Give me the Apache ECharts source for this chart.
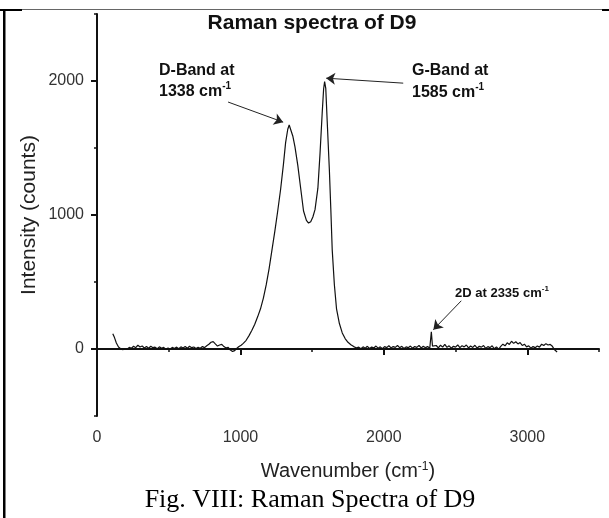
<!DOCTYPE html>
<html lang="en">
<head>
  <meta charset="UTF-8">
  <title>Raman spectra of D9</title>
  <style>
    body, html {
      background: #fff;
      margin: 0;
      padding: 0;
    }
    #main {
      width: 609px;
      height: 518px;
    }
  </style>
</head>
<body>
  <div id="main"></div>
</body>
<script src="https://cdn.jsdelivr.net/npm/echarts@6/dist/echarts.min.js"></script>
<script>
  // spectrum
  var wavenumber = [
    110, 122, 135, 150, 165, 180, 195, 210, 225, 240, 255, 270, 285, 300, 315, 330, 345, 360, 375, 390,
    405, 420, 435, 450, 465, 480, 495, 510, 525, 540, 555, 570, 585, 600, 615, 630, 645, 660, 675, 690,
    705, 720, 735, 750, 765, 780, 795, 810, 825, 840, 855, 870, 885, 900, 915, 930, 945, 960, 975, 990,
    1005, 1020, 1040, 1060, 1080, 1100, 1120, 1140, 1160, 1180, 1200, 1220, 1240, 1260, 1280, 1300, 1315, 1330, 1340, 1350,
    1365, 1380, 1400, 1420, 1440, 1460, 1475, 1490, 1505, 1520, 1540, 1555, 1570, 1580, 1587, 1595, 1605, 1620, 1630, 1640,
    1655, 1670, 1690, 1710, 1730, 1750, 1770, 1790, 1810, 1825, 1840, 1855, 1870, 1885, 1900, 1915, 1930, 1945, 1960, 1975,
    1990, 2005, 2020, 2035, 2050, 2065, 2080, 2095, 2110, 2125, 2140, 2155, 2170, 2185, 2200, 2215, 2230, 2245, 2260, 2275,
    2290, 2305, 2320, 2328, 2331, 2336, 2339, 2350, 2365, 2380, 2395, 2410, 2425, 2440, 2455, 2470, 2485, 2500, 2515, 2530,
    2545, 2560, 2575, 2590, 2605, 2620, 2635, 2650, 2665, 2680, 2695, 2710, 2725, 2740, 2755, 2770, 2785, 2800, 2815, 2830,
    2845, 2860, 2875, 2890, 2905, 2920, 2935, 2950, 2965, 2980, 2995, 3010, 3025, 3040, 3055, 3070, 3085, 3100, 3115, 3130,
    3145, 3160, 3175, 3190, 3200, 3208
  ];
  var intensity = [
    114, 85, 45, 15, 2, -5, 4, -2, 12, 6, 20, 10, 28, 15, 22, 8, 18, 6, 20, 10,
    14, 2, 16, 5, 12, -3, 8, 0, 12, 4, 14, 2, 16, 8, 18, 6, 20, 10, 15, 4,
    12, 6, 18, 10, 24, 35, 50, 55, 38, 22, 30, 34, 18, 8, 12, -8, -18, -12, 5, 18,
    28, 42, 65, 100, 140, 185, 240, 300, 380, 480, 600, 740, 880, 1030, 1190, 1380, 1540, 1640, 1672, 1660,
    1590, 1510, 1370, 1200, 1030, 960, 940, 950, 985, 1040, 1200, 1460, 1760, 1940, 1995, 1945, 1700, 1340, 1050, 740,
    480, 300, 190, 120, 78, 50, 32, 18, 8, 14, 2, 16, 6, 20, 4, 14, 8, 22, 6, 16,
    2, 18, 10, 24, 8, 18, 12, 26, 10, 20, 4, 16, 10, 22, 6, 18, 12, 26, 8, 20,
    10, 18, 6, 20, 128, 130, 22, 12, 26, 8, 28, 14, 34, 12, 24, 6, 20, 14, 30, 10,
    24, 16, 30, 8, 22, 12, 28, 6, 20, 14, 26, 4, 18, 10, 24, 2, 16, -2, 20, 36,
    24, 46, 34, 58, 42, 54, 38, 48, 26, 36, 16, 24, 6, 18, 10, 22, 14, 36, 26, 40,
    30, 34, 20, -6, -18, -22
  ];

  var xTicks = [0, 1000, 2000, 3000];
  var xMinorTicks = [500, 1500, 2500, 3500];
  var yTicks = [0, 1000, 2000];
  var yMinorTicks = [-500, 500, 1500, 2500];

  // annotation arrows [from, to] in data units
  var arrowD = [[914, 1843], [1298, 1693]];
  var arrowG = [[2135, 1984], [1598, 2021]];
  var arrow2D = [[2540, 360], [2345, 144]];

  var spectrum = wavenumber.map(function (w, i) { return [w, intensity[i]]; });

  var sans = "'Liberation Sans', Arial, sans-serif";
  var serif = "'Liberation Serif', 'Times New Roman', serif";

  var chart = echarts.init(document.getElementById('main'));

  function arrow(pair) {
    return [{ coord: pair[0], symbol: 'none' }, { coord: pair[1], symbol: 'arrow' }];
  }
  function plain(v) { return String(v); }

  var option = {
    animation: false,
    grid: { left: 97, right: 10, top: 14, bottom: 102 },
    xAxis: [
      {
        type: 'value', min: 0, max: 3500,
        name: 'Wavenumber (cm{s|-1})',
        nameLocation: 'middle', nameGap: 45,
        nameTextStyle: {
          fontFamily: sans, fontSize: 20, color: '#222',
          rich: { s: { fontFamily: sans, fontSize: 12, color: '#222', verticalAlign: 'top', lineHeight: 21 } }
        },
        axisLine: { lineStyle: { color: '#111', width: 2 } },
        axisTick: { customValues: xTicks, length: 6, lineStyle: { color: '#111', width: 2 } },
        axisLabel: { customValues: xTicks, formatter: plain, margin: 14, fontFamily: sans, fontSize: 16, color: '#333' },
        splitLine: { show: false }
      },
      {
        type: 'value', min: 0, max: 3500, position: 'bottom',
        axisLine: { show: false },
        axisTick: { customValues: xMinorTicks, length: 3, lineStyle: { color: '#111', width: 1.5 } },
        axisLabel: { show: false },
        splitLine: { show: false }
      }
    ],
    yAxis: [
      {
        type: 'value', min: -500, max: 2500,
        name: 'Intensity (counts)',
        nameLocation: 'middle', nameGap: 57, nameMoveOverlap: false,
        nameTextStyle: { fontFamily: sans, fontSize: 21, color: '#222' },
        axisLine: { show: true, lineStyle: { color: '#111', width: 2 } },
        axisTick: { show: true, customValues: yTicks, length: 6, lineStyle: { color: '#111', width: 2 } },
        axisLabel: { customValues: yTicks, formatter: plain, margin: 13, fontFamily: sans, fontSize: 16, color: '#333' },
        splitLine: { show: false }
      },
      {
        type: 'value', min: -500, max: 2500, position: 'left',
        axisLine: { show: false },
        axisTick: { show: true, customValues: yMinorTicks, length: 3, lineStyle: { color: '#111', width: 1.5 } },
        axisLabel: { show: false },
        splitLine: { show: false }
      }
    ],
    series: [
      {
        name: 'D9',
        type: 'line',
        data: spectrum,
        showSymbol: false,
        lineStyle: { color: '#111', width: 1.2 },
        markLine: {
          silent: true,
          symbolSize: 9,
          lineStyle: { color: '#222', width: 1, type: 'solid' },
          label: { show: false },
          data: [arrow(arrowD), arrow(arrowG), arrow(arrow2D)]
        }
      }
    ],
    graphic: [
      // table cell border
      { type: 'rect', shape: { x: 0, y: 9, width: 609, height: 1 }, style: { fill: '#666' } },
      { type: 'rect', shape: { x: 0, y: 9, width: 22, height: 2 }, style: { fill: '#000' } },
      { type: 'rect', shape: { x: 602, y: 9, width: 7, height: 2 }, style: { fill: '#000' } },
      { type: 'rect', shape: { x: 3, y: 9, width: 2.5, height: 509 }, style: { fill: '#000' } },
      {
        type: 'text', x: 312, y: 23,
        style: { text: 'Raman spectra of D9', font: 'bold 21px ' + sans, fill: '#111', align: 'center', verticalAlign: 'middle' }
      },
      {
        type: 'text', x: 159, y: 60,
        style: {
          text: '{b|D-Band at}\n{b|1338 cm}{s|-1}', align: 'left', verticalAlign: 'top',
          rich: {
            b: { font: 'bold 16px ' + sans, fill: '#111', lineHeight: 21 },
            s: { font: 'bold 10px ' + sans, fill: '#111', lineHeight: 21, verticalAlign: 'top' }
          }
        }
      },
      {
        type: 'text', x: 412, y: 60,
        style: {
          text: '{b|G-Band at}\n{b|1585 cm}{s|-1}', align: 'left', verticalAlign: 'top',
          rich: {
            b: { font: 'bold 16px ' + sans, fill: '#111', lineHeight: 22 },
            s: { font: 'bold 10px ' + sans, fill: '#111', lineHeight: 22, verticalAlign: 'top' }
          }
        }
      },
      {
        type: 'text', x: 455, y: 285,
        style: {
          text: '{b|2D at 2335 cm}{s|-1}', align: 'left', verticalAlign: 'top',
          rich: {
            b: { font: 'bold 13px ' + sans, fill: '#111', lineHeight: 16 },
            s: { font: 'bold 8px ' + sans, fill: '#111', lineHeight: 16, verticalAlign: 'top' }
          }
        }
      },
      {
        type: 'text', x: 310, y: 500,
        style: { text: 'Fig. VIII: Raman Spectra of D9', font: '26px ' + serif, fill: '#000', align: 'center', verticalAlign: 'middle' }
      }
    ]
  };

  chart.setOption(option);
</script>
</html>
